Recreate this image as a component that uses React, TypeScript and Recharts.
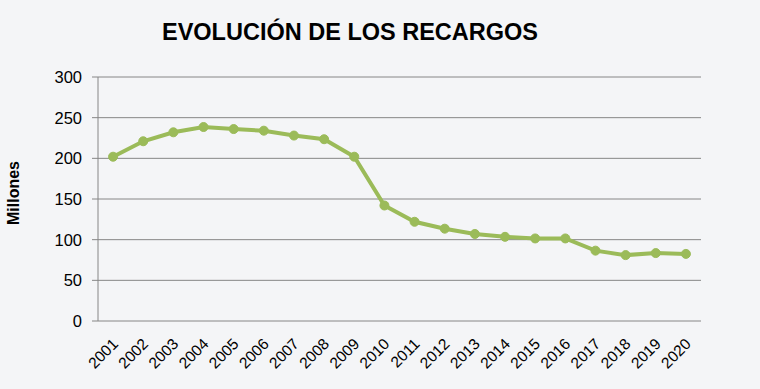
import React from 'react';
import { LineChart, Line, XAxis, YAxis, CartesianGrid } from 'recharts';

const years = ['2001','2002','2003','2004','2005','2006','2007','2008','2009','2010','2011','2012','2013','2014','2015','2016','2017','2018','2019','2020'];
const recargos = [202, 221, 232, 238.5, 236, 234, 228, 223.5, 202, 142, 122, 113.5, 107, 103.5, 101.5, 101.5, 86.5, 81, 83.5, 82.5];
const yTicks = [0, 50, 100, 150, 200, 250, 300];
const title = 'EVOLUCIÓN DE LOS RECARGOS';
const yLabel = 'Millones';

const data = years.map((y, i) => ({ year: y, idx: i + 0.5, value: recargos[i] }));
const boundaryTicks = Array.from({ length: years.length + 1 }, (_, i) => i);

const FONT = '"Liberation Sans", Arial, sans-serif';
const GRID = '#868686';
const GREEN = '#9BBB59';

const XTick = (props: any) => {
  const { x, y, payload } = props;
  const ax = x + 6;
  const ay = y + 24;
  return (
    <text
      x={ax}
      y={ay}
      transform={`rotate(-45, ${ax}, ${ay})`}
      textAnchor="end"
      style={{ fontFamily: FONT, fontSize: '15.5px' }}
      fill="#000"
    >
      {payload.value}
    </text>
  );
};

export default function App() {
  return (
    <div style={{ position: 'absolute', left: 0, top: 0, width: 760, height: 389, background: '#F4F5F7' }}>
      <div
        style={{
          position: 'absolute', left: 0, top: 18, width: 700, textAlign: 'center',
          fontFamily: FONT, fontWeight: 'bold', fontSize: 23.5, color: '#000', lineHeight: '28px',
        }}
      >
        {title}
      </div>
      <div
        style={{
          position: 'absolute', left: 14, top: 193, width: 0, height: 0,
        }}
      >
        <div
          style={{
            position: 'absolute', transform: 'translate(-50%, -50%) rotate(-90deg)',
            fontFamily: FONT, fontWeight: 'bold', fontSize: 16, color: '#000', whiteSpace: 'nowrap',
          }}
        >
          {yLabel}
        </div>
      </div>
      <div style={{ position: 'absolute', left: 0, top: 0 }}>
        <LineChart width={760} height={389} data={data} margin={{ top: 77, right: 59, bottom: 0, left: 0 }}>
          <CartesianGrid vertical={false} stroke={GRID} strokeWidth={1} />
          <XAxis
            xAxisId="b"
            type="number"
            dataKey="idx"
            domain={[0, years.length]}
            ticks={boundaryTicks}
            tick={false}
            tickLine={{ stroke: GRID }}
            tickSize={6}
            axisLine={{ stroke: GRID }}
            height={0}
          />
          <XAxis
            xAxisId="a"
            type="category"
            dataKey="year"
            scale="band"
            tick={<XTick />}
            tickLine={false}
            tickSize={0}
            tickMargin={0}
            axisLine={false}
            interval={0}
            height={68}
          />
          <YAxis
            domain={[0, 300]}
            ticks={yTicks}
            width={98}
            tickSize={6}
            tickMargin={10}
            axisLine={{ stroke: GRID }}
            tickLine={{ stroke: GRID }}
            tick={{ fontFamily: FONT, fontSize: 16.5, fill: '#000' }}
          />
          <Line
            xAxisId="b"
            dataKey="value"
            type="linear"
            stroke={GREEN}
            strokeWidth={4}
            dot={{ r: 4.5, fill: GREEN, stroke: GREEN, strokeWidth: 1 }}
            isAnimationActive={false}
          />
        </LineChart>
      </div>
    </div>
  );
}
